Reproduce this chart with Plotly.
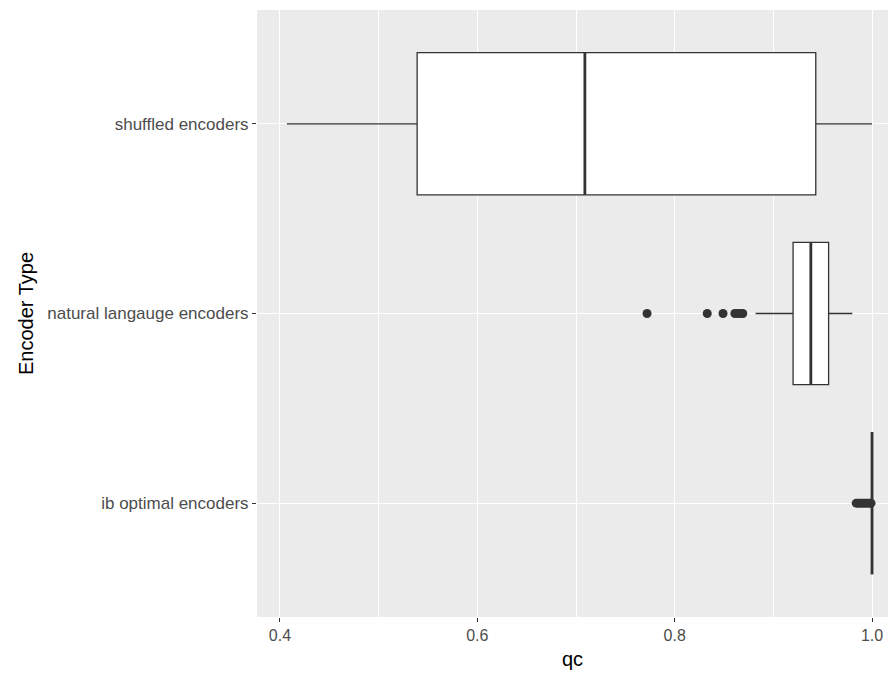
import plotly.graph_objects as go

categories = ["ib optimal encoders", "natural langauge encoders", "shuffled encoders"]
lower_whisker = [1.0, 0.882, 0.407]
q1 = [1.0, 0.920, 0.539]
median = [1.0, 0.938, 0.709]
q3 = [1.0, 0.956, 0.943]
upper_whisker = [1.0, 0.980, 1.0]
outliers = [
    [0.984, 0.986, 0.988, 0.990, 0.992, 0.994, 0.996, 0.998, 0.999],
    [0.772, 0.833, 0.849, 0.861, 0.864, 0.867, 0.869],
    [],
]
x_ticks = [0.4, 0.6, 0.8, 1.0]
x_tick_labels = ["0.4", "0.6", "0.8", "1.0"]

BOX_W = 0.75
LINE = "#333333"
FONT = "Liberation Sans, Arial, sans-serif"

fig = go.Figure()
pos = list(range(len(categories)))
for i, c in enumerate(categories):
    fig.add_trace(go.Box(
        y=[pos[i]], q1=[q1[i]], median=[median[i]], q3=[q3[i]],
        lowerfence=[lower_whisker[i]], upperfence=[upper_whisker[i]],
        orientation="h", width=BOX_W, whiskerwidth=0,
        fillcolor="white", line=dict(color=LINE, width=1.3),
        boxpoints=False, showlegend=False, hoverinfo="skip",
    ))
    fig.add_trace(go.Scatter(
        x=[median[i], median[i]], y=[pos[i] - BOX_W / 2, pos[i] + BOX_W / 2],
        mode="lines", line=dict(color=LINE, width=2.8), showlegend=False, hoverinfo="skip",
    ))
    if outliers[i]:
        fig.add_trace(go.Scatter(
            x=outliers[i], y=[pos[i]] * len(outliers[i]), mode="markers",
            marker=dict(color=LINE, size=9, line=dict(width=0)), showlegend=False,
        ))

fig.update_layout(
    width=888, height=675,
    margin=dict(l=257, r=0, t=10, b=58),
    paper_bgcolor="white", plot_bgcolor="#EBEBEB",
    font=dict(family=FONT, color="#4D4D4D", size=16),
    xaxis=dict(
        range=[0.3767, 1.0162], tickvals=x_ticks, ticktext=x_tick_labels,
        showgrid=True, gridcolor="white", gridwidth=1.3,
        minor=dict(tickvals=[0.5, 0.7, 0.9], showgrid=True, gridcolor="white", gridwidth=0.6),
        ticks="outside", ticklen=4, tickcolor="#333333", tickwidth=1.1,
        zeroline=False, showline=False,
        tickfont=dict(size=16, color="#4D4D4D"),
        title=dict(text="qc", font=dict(size=20, color="black"), standoff=8),
    ),
    yaxis=dict(
        range=[-0.6, 2.6], tickvals=pos, ticktext=categories,
        showgrid=True, gridcolor="white", gridwidth=1.3,
        ticks="outside", ticklen=4, tickcolor="#333333", tickwidth=1.1,
        zeroline=False, showline=False,
        tickfont=dict(size=17, color="#4D4D4D"),
        title=dict(text="Encoder Type", font=dict(size=20, color="black"), standoff=8),
    ),
)

fig.write_html(
    "out.html",
    config={"displayModeBar": False},
    post_script="document.body.style.margin='0';document.body.style.overflow='hidden';",
)
